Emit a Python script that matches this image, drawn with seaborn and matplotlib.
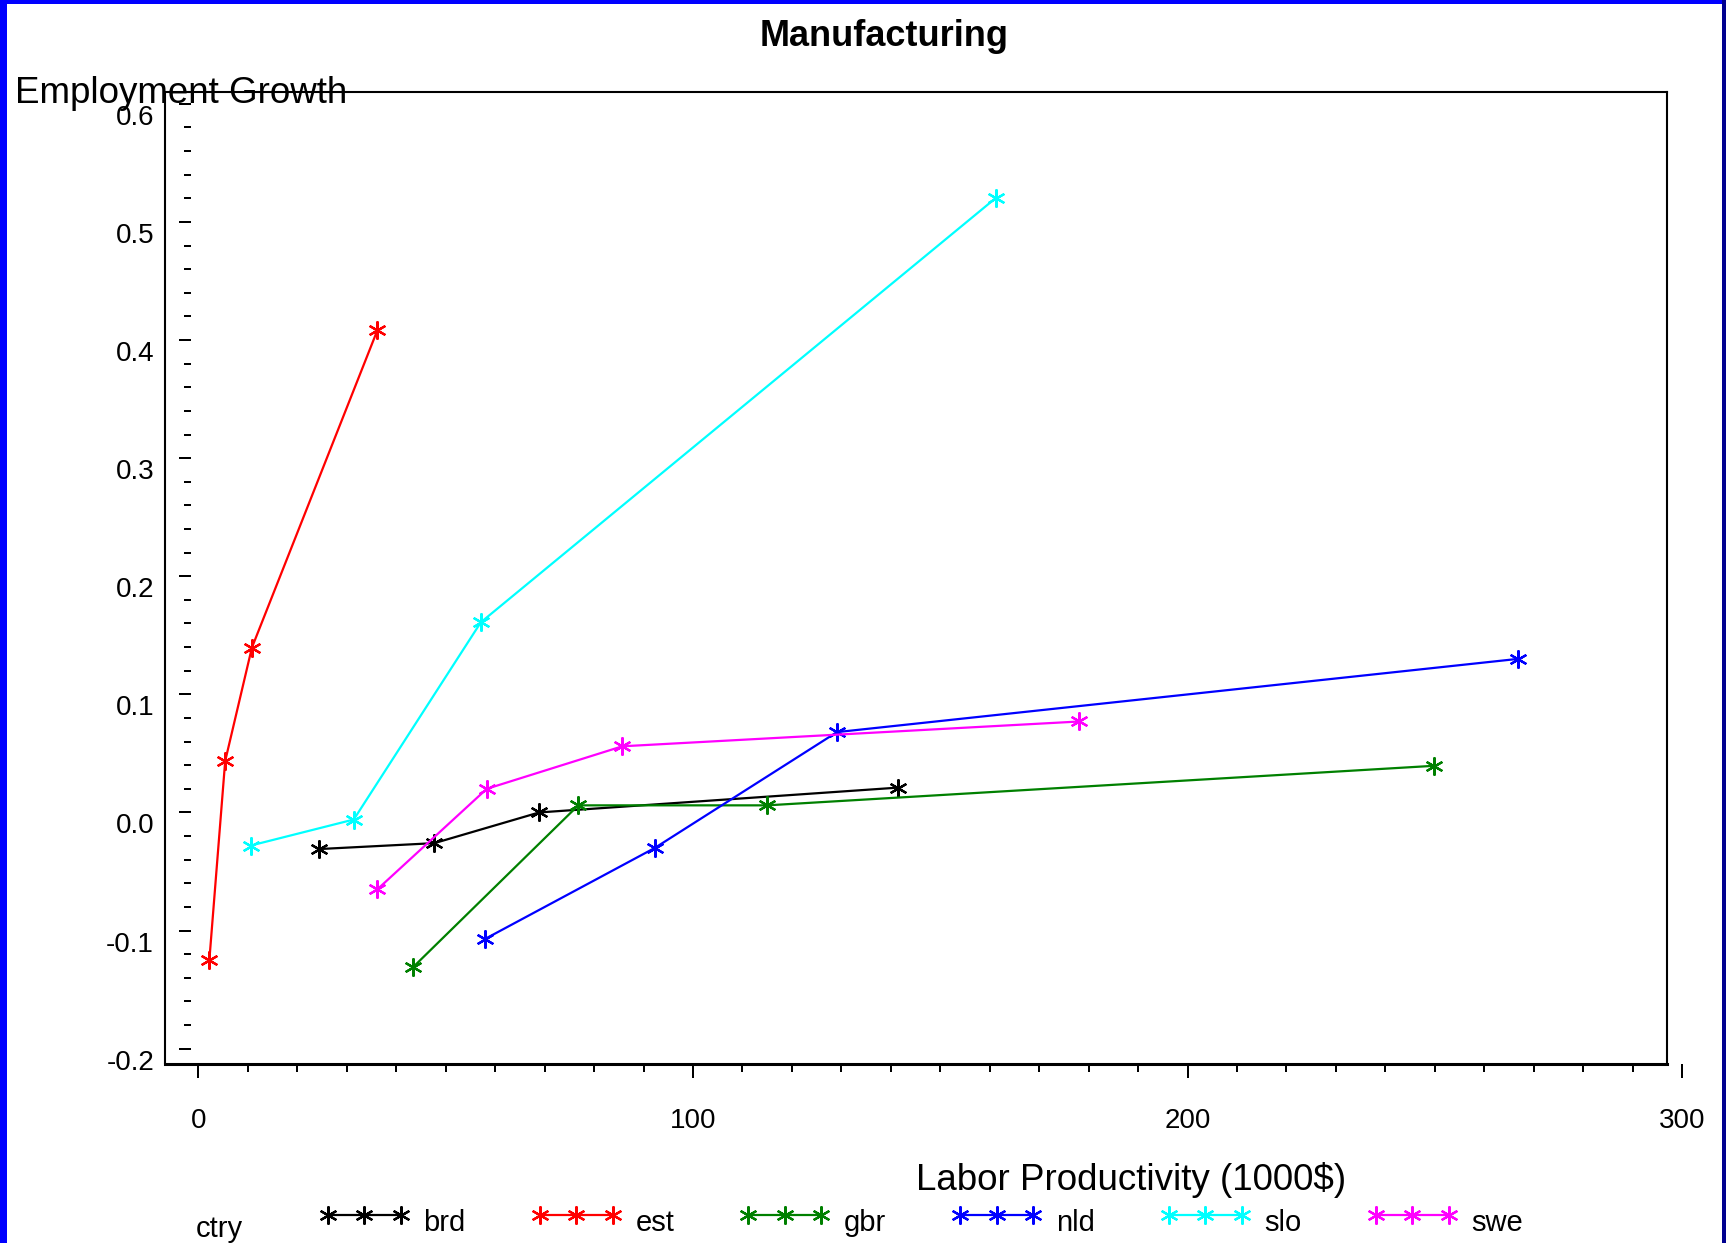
import numpy as np
import pandas as pd
import matplotlib
matplotlib.use("Agg")
import matplotlib.pyplot as plt
import matplotlib.transforms as mtransforms
from matplotlib.ticker import MultipleLocator
from matplotlib.lines import Line2D
from matplotlib.patches import Rectangle
import seaborn as sns

# ---------------- data ----------------
countries = ["brd", "est", "gbr", "nld", "slo", "swe"]
colors = ["#000000", "#FF0000", "#008000", "#0000FF", "#00FFFF", "#FF00FF"]

brd_x = [24.4, 47.7, 68.9, 141.4]
brd_y = [-0.031, -0.026, 0.000, 0.021]
est_x = [2.2, 5.4, 10.8, 36.2]
est_y = [-0.125, 0.0435, 0.1395, 0.4085]
gbr_x = [43.4, 76.8, 115.0, 249.9]
gbr_y = [-0.131, 0.006, 0.006, 0.0395]
nld_x = [58.0, 92.3, 129.1, 266.8]
nld_y = [-0.107, -0.030, 0.068, 0.130]
slo_x = [10.6, 31.4, 57.1, 161.3]
slo_y = [-0.028, -0.006, 0.161, 0.5205]
swe_x = [36.2, 58.3, 85.7, 178.1]
swe_y = [-0.065, 0.020, 0.056, 0.077]

x_ticks = [0, 100, 200, 300]
x_tick_labels = ["0", "100", "200", "300"]
y_ticks = [-0.2, -0.1, 0.0, 0.1, 0.2, 0.3, 0.4, 0.5, 0.6]
y_tick_labels = ["-0.2", "-0.1", "0.0", "0.1", "0.2", "0.3", "0.4", "0.5", "0.6"]

title = "Manufacturing"
x_label = "Labor Productivity (1000$)"
y_label = "Employment Growth"
legend_title = "ctry"

series = {
    "brd": (brd_x, brd_y), "est": (est_x, est_y), "gbr": (gbr_x, gbr_y),
    "nld": (nld_x, nld_y), "slo": (slo_x, slo_y), "swe": (swe_x, swe_y),
}
df = pd.concat(
    [pd.DataFrame({"ctry": k, "prod": v[0], "growth": v[1]}) for k, v in series.items()],
    ignore_index=True,
)

# ---------------- style ----------------
sns.set_style("white")
plt.rcParams["font.family"] = ["Liberation Sans", "DejaVu Sans"]
plt.rcParams["axes.unicode_minus"] = False
for key in ["text.color", "axes.labelcolor", "xtick.color", "ytick.color",
            "xtick.labelcolor", "ytick.labelcolor"]:
    plt.rcParams[key] = "black"

W, H, DPI = 1726, 1243, 100
fig = plt.figure(figsize=(W / DPI, H / DPI), dpi=DPI)
fig.patch.set_facecolor("white")

# axes placement (pixels)
ax_left, ax_right, ax_top, ax_bottom = 165, 1684, 92, 1064
ax = fig.add_axes([ax_left / W, 1 - ax_bottom / H, (ax_right - ax_left) / W, (ax_bottom - ax_top) / H])

star = (6, 2, 0)
sns.lineplot(
    data=df, x="prod", y="growth", hue="ctry", hue_order=countries,
    palette=colors, marker=star, markersize=13, markeredgewidth=1.6,
    linewidth=1.6, sort=True, estimator=None, legend=False, ax=ax,
)
for ln in ax.lines:
    ln.set_markeredgecolor(ln.get_color())

ax.set_xlim(-6.77, 300.4)
ax.set_ylim(-0.213, 0.610)
ax.set_xlabel("")
ax.set_ylabel("")

# spines / frame
frame_lw = 1.5
for s in ["top", "right", "bottom"]:
    ax.spines[s].set_color("black")
    ax.spines[s].set_linewidth(frame_lw)
ax.spines["bottom"].set_linewidth(2.2)
ax.spines["right"].set_position(("data", 297.0))
ax.spines["top"].set_bounds(-6.77, 297.0)
ax.spines["bottom"].set_bounds(-6.77, 297.0)
ax.spines["left"].set_position(("outward", -26 * 0.72))
ax.spines["left"].set_edgecolor("none")
ax.plot([0, 0], [0, 1], transform=ax.transAxes, color="black", lw=frame_lw,
        clip_on=False, solid_capstyle="butt")

# ticks
ax.set_xticks(x_ticks, labels=x_tick_labels)
ax.set_yticks(y_ticks, labels=y_tick_labels)
ax.xaxis.set_minor_locator(MultipleLocator(10))
ax.yaxis.set_minor_locator(MultipleLocator(0.02))
ax.tick_params(axis="both", which="both", direction="out", color="black", width=1.44,
               labelcolor="black", left=True, bottom=True, right=False, top=False)
ax.tick_params(axis="y", which="major", length=12 * 0.72, pad=25 * 0.72, labelsize=20)
ax.tick_params(axis="y", which="minor", length=7 * 0.72)
ax.tick_params(axis="x", which="major", length=14 * 0.72, pad=30 * 0.72, labelsize=20)
ax.tick_params(axis="x", which="minor", length=8 * 0.72)

shift = mtransforms.ScaledTranslation(0, -11 / DPI, fig.dpi_scale_trans)
for lbl in ax.get_yticklabels():
    lbl.set_transform(lbl.get_transform() + shift)

# texts
fig.text(884 / W, 1 - 36 / H, title, ha="center", va="center", fontsize=26,
         fontweight="bold", color="black")
fig.text(15 / W, 1 - 103 / H, y_label, ha="left", va="baseline", fontsize=26.5, color="black")
fig.text(1131.5 / W, 1 - 1180.5 / H, x_label, ha="center", va="center", fontsize=26.5,
         color="black")

# legend
fig.text(196 / W, 1 - 1237 / H, legend_title, ha="left", va="baseline", fontsize=21,
         color="black")
handles = [Line2D([], [], color=c, marker=star, markersize=13, markeredgewidth=1.6,
                  markeredgecolor=c, linewidth=1.6) for c in colors]
leg = fig.legend(handles=handles, labels=countries, loc="lower left",
                 bbox_to_anchor=(319 / W, -0.002), ncol=6, frameon=False, fontsize=21,
                 numpoints=3, handlelength=3.1, handletextpad=0.48, columnspacing=2.24,
                 handleheight=2.09, borderpad=0, borderaxespad=0)
for t in leg.get_texts():
    t.set_color("black")

# page border
fig.patches.append(Rectangle((0, 0), 7 / W, 1, transform=fig.transFigure,
                             facecolor="#0000FF", edgecolor="none", zorder=10))
fig.patches.append(Rectangle((0, 1 - 4 / H), 1, 4 / H, transform=fig.transFigure,
                             facecolor="#0000FF", edgecolor="none", zorder=10))
fig.patches.append(Rectangle((1 - 4.5 / W, 0), 4.5 / W, 1, transform=fig.transFigure,
                             facecolor="#000090", edgecolor="none", zorder=10))

fig.savefig("out.png", dpi=DPI, facecolor="white")
